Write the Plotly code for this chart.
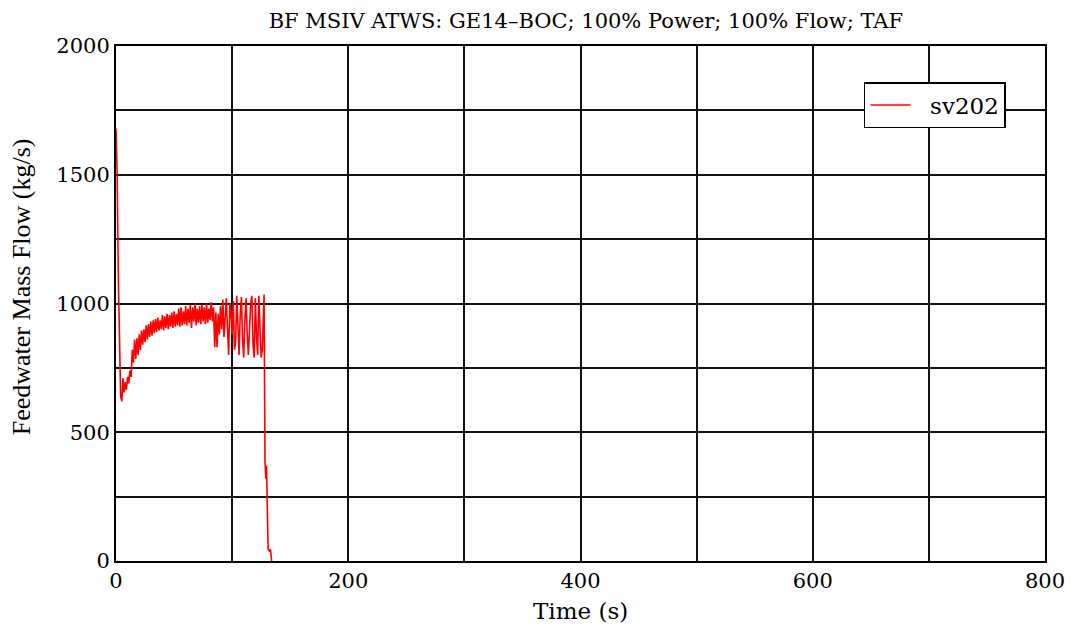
import plotly.graph_objects as go

time_s = [0, 1, 2, 3, 4, 5, 6, 7, 8, 9, 10, 11, 12, 13, 14, 15, 16, 17, 18, 19,
          20, 21, 22, 23, 24, 25, 26, 27, 28, 29, 30, 31, 32, 33, 34, 35, 36, 37, 38, 39,
          40, 41, 42, 43, 44, 45, 46, 47, 48, 49, 50, 51, 52, 53, 54, 55, 56, 57, 58, 59,
          60, 61, 62, 63, 64, 65, 66, 67, 68, 69, 70, 71, 72, 73, 74, 75, 76, 77, 78, 79,
          80, 81, 82, 83, 84, 85, 86, 87, 88, 89, 90, 91, 92, 93, 94, 95, 96, 97, 98, 99,
          100, 101, 102, 103, 104, 105, 106, 107, 108, 109, 110, 111, 112, 113, 114, 115,
          116, 117, 118, 119, 120, 121, 122, 123, 124, 125, 126, 127.5, 128.3, 129.0,
          129.6, 131.0, 132.0, 133.0, 134.0]

flow_kgs = [1680, 1500, 1100, 800, 640, 620, 710, 655, 695, 665, 715, 690, 740, 715, 820,
            770, 860, 785, 865, 800, 880, 820, 895, 840, 900, 850, 915, 860, 920, 870,
            930, 875, 935, 885, 940, 890, 945, 895, 935, 900, 955, 895, 950, 905, 960,
            900, 955, 910, 965, 905, 970, 910, 960, 915, 980, 910, 985, 915, 970, 920,
            990, 915, 980, 925, 995, 905, 985, 930, 1000, 915, 980, 925, 990, 920, 995,
            930, 985, 920, 1000, 925, 980, 935, 1005, 930, 985, 830, 965, 830, 960, 880,
            990, 900, 1015, 870, 930, 1020, 900, 800, 1000, 960, 880, 1010, 820, 850, 1030,
            900, 800, 960, 1025, 860, 790, 940, 1020, 880, 800, 900, 1000, 1030, 840, 790,
            1020, 870, 800, 1030, 880, 790, 820, 1035, 390, 320, 370, 45, 40, 45, 0]

x_ticks = [0, 100, 200, 300, 400, 500, 600, 700, 800]
x_labels = ["0", "", "200", "", "400", "", "600", "", "800"]
y_ticks = [0, 250, 500, 750, 1000, 1250, 1500, 1750, 2000]
y_labels = ["0", "", "500", "", "1000", "", "1500", "", "2000"]

fig = go.Figure()
fig.add_trace(go.Scatter(x=time_s, y=flow_kgs, mode="lines", name="\u00a0\u00a0sv202",
                         line=dict(color="#ff0000", width=1.6)))

axis_common = dict(showline=True, linecolor="black", linewidth=2, mirror=True,
                   showgrid=True, gridcolor="#111111", gridwidth=1.5, zeroline=False,
                   automargin=False,
                   ticks="", tickfont=dict(family="DejaVu Serif", size=21, color="black"))

fig.update_layout(
    width=1073, height=627,
    margin=dict(l=116, r=28, t=46, b=66),
    paper_bgcolor="white", plot_bgcolor="white",
    title=dict(text="BF MSIV ATWS: GE14\u2013BOC; 100% Power; 100% Flow; TAF",
               x=0.546, xanchor="center", y=0.967, yanchor="middle",
               font=dict(family="DejaVu Serif", size=21, color="black")),
    xaxis=dict(range=[0, 800], tickvals=x_ticks, ticktext=x_labels, **axis_common),
    yaxis=dict(range=[0, 2000], tickvals=y_ticks, ticktext=y_labels, **axis_common),
    legend=dict(x=0.958, y=0.93, xanchor="right", yanchor="top",
                bgcolor="white", bordercolor="black", borderwidth=1.5,
                itemwidth=40,
                font=dict(family="DejaVu Serif", size=23, color="black")),
    showlegend=True,
    annotations=[
        dict(text="Time (s)", xref="paper", yref="paper", x=0.5, y=-0.097,
             xanchor="center", yanchor="middle", showarrow=False,
             font=dict(family="DejaVu Serif", size=23, color="black")),
        dict(text="Feedwater Mass Flow (kg/s)", xref="paper", yref="paper",
             x=-0.102, y=0.532, xanchor="center", yanchor="middle", textangle=-90,
             showarrow=False,
             font=dict(family="Liberation Serif", size=26, color="black")),
    ],
)

fig.write_html("out.html")
